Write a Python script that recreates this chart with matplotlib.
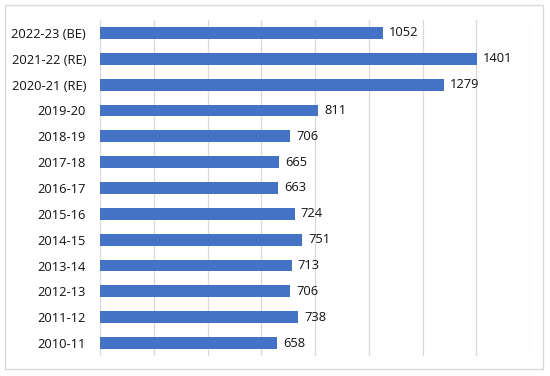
import matplotlib
matplotlib.use("Agg")
import matplotlib.pyplot as plt
from matplotlib.patches import Rectangle

years = ["2010-11", "2011-12", "2012-13", "2013-14", "2014-15", "2015-16", "2016-17",
         "2017-18", "2018-19", "2019-20", "2020-21 (RE)", "2021-22 (RE)", "2022-23 (BE)"]
values = [658, 738, 706, 713, 751, 724, 663, 665, 706, 811, 1279, 1401, 1052]

plt.rcParams['font.family'] = ['Open Sans', 'DejaVu Sans']

fig = plt.figure(figsize=(5.5, 3.76), dpi=100)
ax = fig.add_axes([100 / 550, 1 - 356 / 376, 430 / 550, 336 / 376])

ypos = range(len(years))
ax.barh(ypos, values, height=0.46, color='#4472C4', zorder=3)
for y, v in zip(ypos, values):
    ax.annotate(str(v), (v, y), xytext=(4.5, 0), textcoords='offset points',
                va='center', ha='left', fontsize=9.3, color='#111111')

ax.set_xlim(0, 1600)
ax.set_ylim(-0.5, len(years) - 0.5)
ax.set_xticks(range(0, 1601, 200))
ax.set_xticklabels([])
ax.set_yticks(list(ypos))
ax.set_yticklabels(years, fontsize=9.3, color='#111111')
ax.tick_params(axis='both', length=0, pad=10)
ax.grid(axis='x', color='#D9D9D9', linewidth=0.9, zorder=0)
for s in ax.spines.values():
    s.set_visible(False)

fig.patches.append(Rectangle((5 / 550, 1 - 369 / 376), 538 / 550, 364 / 376,
                             transform=fig.transFigure, fill=False,
                             edgecolor='#D9D9D9', linewidth=1))

fig.savefig("out.png", dpi=100)
